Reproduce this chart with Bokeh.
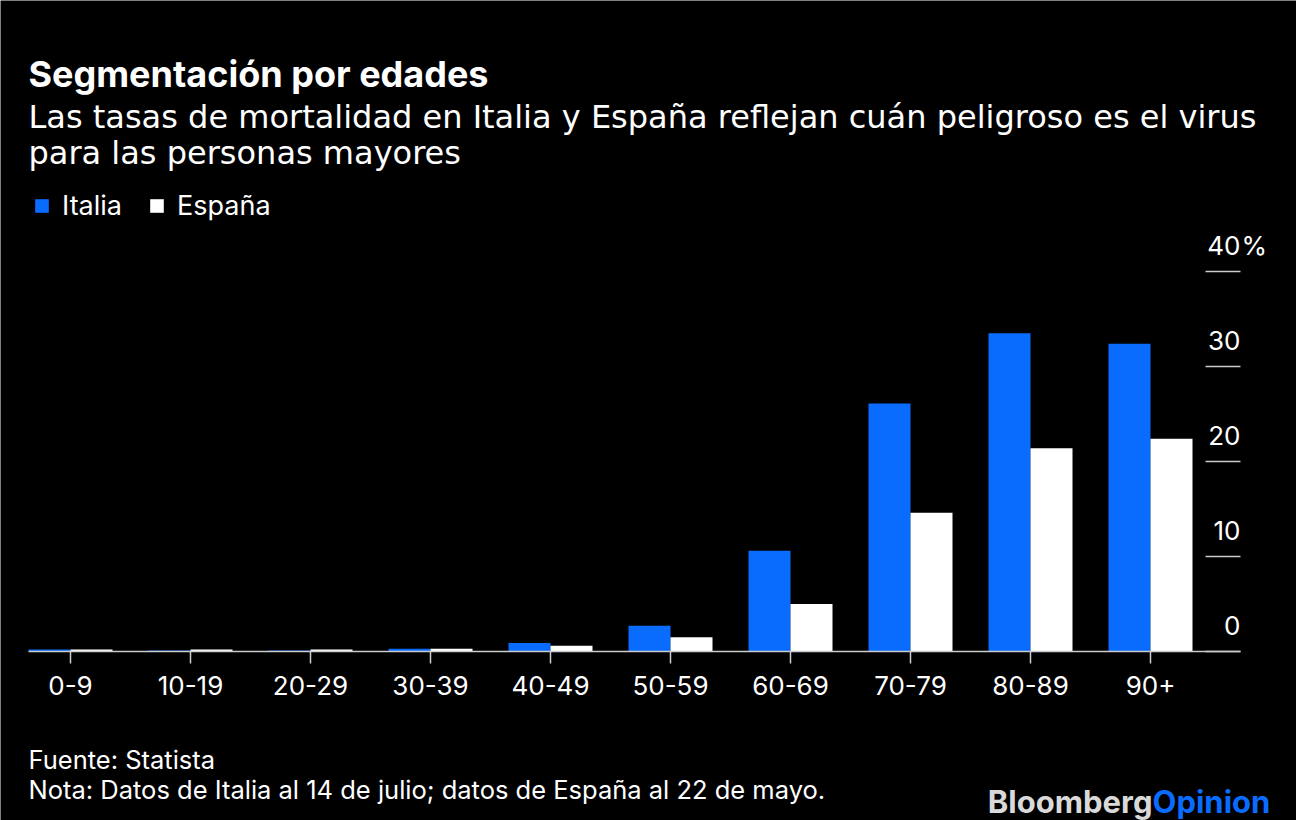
from bokeh.plotting import figure
from bokeh.models import (ColumnDataSource, Range1d, FixedTicker, Label, LabelSet,
                          Legend, LegendItem, LinearAxis)
from bokeh.core.properties import value
from bokeh.transform import dodge
from bokeh.embed import file_html
from bokeh.resources import INLINE

# ---- data ----
groups = ["0-9", "10-19", "20-29", "30-39", "40-49", "50-59", "60-69", "70-79", "80-89", "90+"]
italia = [0.2, 0.1, 0.1, 0.3, 0.9, 2.7, 10.6, 26.1, 33.5, 32.4]
espana = [0.2, 0.2, 0.2, 0.3, 0.6, 1.5, 5.0, 14.6, 21.4, 22.4]
y_ticks = [0, 10, 20, 30, 40]
y_tick_labels = ["0", "10", "20", "30", "40"]

title = "Segmentación por edades"
subtitle1 = "Las tasas de mortalidad en Italia y España reflejan cuán peligroso es el virus"
subtitle2 = "para las personas mayores"
source_note = "Fuente: Statista"
nota = "Nota: Datos de Italia al 14 de julio; datos de España al 22 de mayo."

BLUE = "#0A6CFF"
WHITE = "#FFFFFF"
GRAY = "#CCCCCC"
FONT = "Inter"
SUB_FONT = "DejaVu Sans"

W, H = 1296, 820
# plot area: x from -0.35 to 9.75 spans canvas px 28..1240; y 0..40 spans px 651..271
PX_PER_X = 120.0
PX_PER_Y = 9.5
X0_PX, Y0_PX = 70.0, 651.0
X_LO, X_HI = -0.35, 9.75

src = ColumnDataSource(dict(x=list(range(len(groups))), italia=italia, espana=espana))

p = figure(width=W, height=H, output_backend="svg", toolbar_location=None,
           x_range=Range1d(-X0_PX / PX_PER_X, (W - X0_PX) / PX_PER_X),
           y_range=Range1d(-(H - Y0_PX) / PX_PER_Y, Y0_PX / PX_PER_Y),
           x_axis_location=None, y_axis_location=None,
           min_border=0)
p.background_fill_color = "black"
p.border_fill_color = "black"
p.outline_line_color = None
p.grid.visible = False

r_it = p.vbar(x=dodge("x", -0.175, range=p.x_range), top="italia", width=0.35,
              bottom=0, source=src, fill_color=BLUE, line_color=None)
r_es = p.vbar(x=dodge("x", 0.175, range=p.x_range), top="espana", width=0.35,
              bottom=0, source=src, fill_color=WHITE, line_color=None)

# x axis fixed at y = 0
xa = LinearAxis(fixed_location=0, bounds=(X_LO, X_HI),
                ticker=FixedTicker(ticks=list(range(len(groups)))),
                major_label_overrides={i: g for i, g in enumerate(groups)},
                axis_line_color=GRAY, axis_line_width=1.5,
                major_tick_line_color=GRAY, major_tick_line_width=1.5,
                major_tick_in=0, major_tick_out=12, minor_tick_line_color=None,
                major_label_text_color=WHITE, major_label_text_font=FONT,
                major_label_text_font_size="26px", major_label_standoff=12)
p.add_layout(xa, "below")

# y axis at the right edge of the plot area: short tick marks pointing left
ra = LinearAxis(fixed_location=X_HI, bounds=(0, 40), ticker=FixedTicker(ticks=y_ticks),
                axis_line_color=None, major_tick_in=35, major_tick_out=0,
                major_tick_line_color=GRAY, major_tick_line_width=1.5,
                minor_tick_line_color=None, major_label_text_color=None,
                major_label_text_font_size="1px")
p.add_layout(ra, "right")

ysrc = ColumnDataSource(dict(x=[X_HI] * len(y_ticks), y=y_ticks, t=y_tick_labels))
p.add_layout(LabelSet(x="x", y="y", text="t", source=ysrc, text_align="right",
                      text_baseline="alphabetic", y_offset=17, text_color=WHITE,
                      text_font=value(FONT), text_font_size="26px"))
psrc = ColumnDataSource(dict(x=[X_HI], y=[y_ticks[-1]], t=["%"]))
p.add_layout(LabelSet(x="x", y="y", text="t", source=psrc, text_align="left",
                      text_baseline="alphabetic", x_offset=1, y_offset=17, text_color=WHITE,
                      text_font=value(FONT), text_font_size="26px"))

# legend
legend = Legend(items=[LegendItem(label="Italia", renderers=[r_it]),
                       LegendItem(label="España", renderers=[r_es])],
                orientation="horizontal", location=(33, H - 222),
                glyph_width=17, glyph_height=17, label_standoff=12, spacing=26,
                padding=0, margin=0, border_line_color=None, background_fill_alpha=0,
                label_text_color=WHITE, label_text_font=FONT, label_text_font_size="27px")
p.add_layout(legend, "center")


def lab(text, x, yb, size, color=WHITE, style="normal", align="left", font=FONT):
    p.add_layout(Label(x=x, y=H - yb, x_units="screen", y_units="screen",
                       text=text, text_align=align, text_baseline="alphabetic",
                       text_color=color, text_font=font, text_font_size=size,
                       text_font_style=style))


lab(title, 28, 73, "36px", style="bold")
lab(subtitle1, 28, 116, "32px", font=SUB_FONT)
lab(subtitle2, 28, 152, "32px", font=SUB_FONT)
lab(source_note, 28, 759, "25.5px")
lab(nota, 28, 789, "25.5px")
lab("Bloomberg", 1152, 801, "31px", color="#D9D9D9", style="bold", align="right")
lab("Opinion", 1152, 801, "31px", color=BLUE, style="bold", align="left")

open("out.html", "w").write(file_html(p, INLINE))
